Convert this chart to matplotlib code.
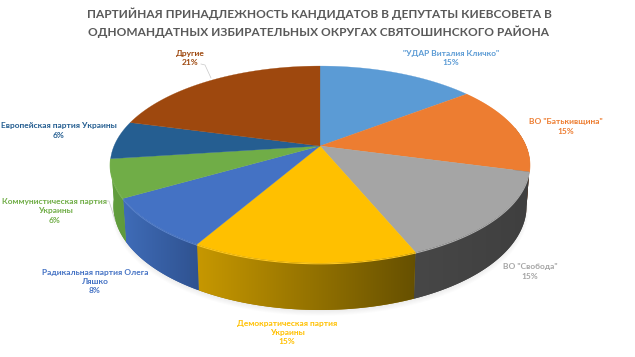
import matplotlib
matplotlib.use("Agg")
import matplotlib.pyplot as plt
import numpy as np

# Candidates per party, clockwise from 12 o'clock
parties = ['"УДАР Виталия Кличко"', 'ВО "Батькивщина"', 'ВО "Свобода"',
           'Демократическая партия\nУкраины', 'Радикальная партия Олега\nЛяшко',
           'Коммунистическая партия\nУкраины', 'Европейская партия Украины', 'Другие']
candidates = [7, 7, 7, 7, 4, 3, 3, 10]
percents = ["15%", "15%", "15%", "15%", "8%", "6%", "6%", "21%"]

top_colors = ["#5b9bd5", "#ed7d31", "#a5a5a5", "#ffc000", "#4472c4", "#70ad47", "#255e91", "#9e480e"]
side_left = ["#3a6c99", "#6f3a16", "#474747", "#c79800", "#3f6cb8", "#639f3f", "#1f4f7a", "#6e3209"]
side_right = ["#3a6c99", "#6f3a16", "#3f3f3f", "#665000", "#2f5290", "#5f9a3c", "#1f4f7a", "#6e3209"]
label_xy = [(451, 58), (566, 126.5), (530, 271.5), (287, 332.5), (95, 281.5), (55, 211), (59, 130.5), (190, 58)]

# Perspective of the pie in pixel coordinates
CX, CY = 320, 146
A, B, K = 206, 95, 0.188


def project(theta, scale=1.0):
    x = np.sin(theta) * scale
    y = np.cos(theta) * scale
    d = 1 + K * y
    return CX + A * x / d, CY - B * y / d


def bottom(theta, scale=1.0):
    x, y = project(theta, scale)
    depth = 40 + 7 * np.clip(-np.cos(theta), 0, 1)
    return CX + (x - CX) * 0.985, y + depth


def mix(c1, c2, t):
    a = np.array(matplotlib.colors.to_rgb(c1))
    b = np.array(matplotlib.colors.to_rgb(c2))
    return a + (b - a) * t


fig = plt.figure(figsize=(6.35, 3.57), dpi=100)
ax = fig.add_axes([0, 0, 1, 1])

edges = np.cumsum([0] + candidates) / sum(candidates) * 2 * np.pi

# Soft shadow under the pie
t = np.linspace(0, 2 * np.pi, 300)
for i in range(8):
    sx, sy = bottom(t, 0.985 + 0.003 * (8 - i))
    ax.fill(sx, sy + 0.5 + 0.5 * (8 - i), color="#000000", alpha=0.012, lw=0, zorder=1)

# Side wall: one horizontal gradient per slice, clipped to the wall's outline
wall_end = edges[6]  # slices past this one show no wall
for i in range(len(candidates)):
    lo = max(edges[i], np.arccos(0.2))
    hi = min(edges[i + 1], wall_end)
    if lo < hi:
        seg = np.linspace(lo, hi, 80)
        x1, y1 = project(seg)
        x2, y2 = bottom(seg)
        xs = np.r_[x1, x2[::-1]]
        ys = np.r_[y1, y2[::-1]]
        poly, = ax.fill(xs, ys, color=mix(side_left[i], side_right[i], 0.5), lw=0, zorder=2)
        grad = np.linspace(0, 1, 256)[:, None] * (mix(side_right[i], side_left[i], 0) - mix(side_left[i], side_left[i], 0)) + mix(side_left[i], side_left[i], 0)
        im = ax.imshow(grad[None, :, :], extent=(xs.min(), xs.max(), ys.max(), ys.min()),
                       aspect="auto", zorder=2.5)
        im.set_clip_path(poly)
    # lighter rim along the top of the wall
    if np.cos(edges[i + 1]) < 0.6 and i < 6:
        seg = np.linspace(edges[i], edges[i + 1], 60)
        x1, y1 = project(seg)
        ax.plot(x1, y1 + 0.8, color=mix(top_colors[i], "#ffffff", 0.12), lw=0.8, zorder=3)

# Top face
for i in range(len(candidates)):
    seg = np.linspace(edges[i], edges[i + 1], 80)
    x1, y1 = project(seg)
    ax.fill(np.r_[CX, x1], np.r_[CY, y1], color=top_colors[i], lw=0.2, ec=top_colors[i], zorder=4)

# Labels
for i in range(len(parties)):
    ax.text(label_xy[i][0], label_xy[i][1], parties[i] + "\n" + percents[i], color=top_colors[i],
            ha="center", va="center", fontsize=6.0, fontweight="bold", family="Lato",
            linespacing=1.35, zorder=5)

# Leader lines
ax.plot([201, 205, 211], [64, 65, 78], color="#c8c8c8", lw=0.5, zorder=5)
ax.plot([106, 109, 115], [201, 201, 220], color="#c8c8c8", lw=0.5, zorder=5)

ax.text(319, 23, "ПАРТИЙНАЯ ПРИНАДЛЕЖНОСТЬ КАНДИДАТОВ В ДЕПУТАТЫ КИЕВСОВЕТА В\n"
        "ОДНОМАНДАТНЫХ ИЗБИРАТЕЛЬНЫХ ОКРУГАХ СВЯТОШИНСКОГО РАЙОНА",
        color="#595959", ha="center", va="center", fontsize=8.6, family="Lato",
        fontweight="bold", linespacing=1.55)

ax.set_xlim(0, 635)
ax.set_ylim(357, 0)
ax.axis("off")

fig.savefig("out.png", dpi=100)
